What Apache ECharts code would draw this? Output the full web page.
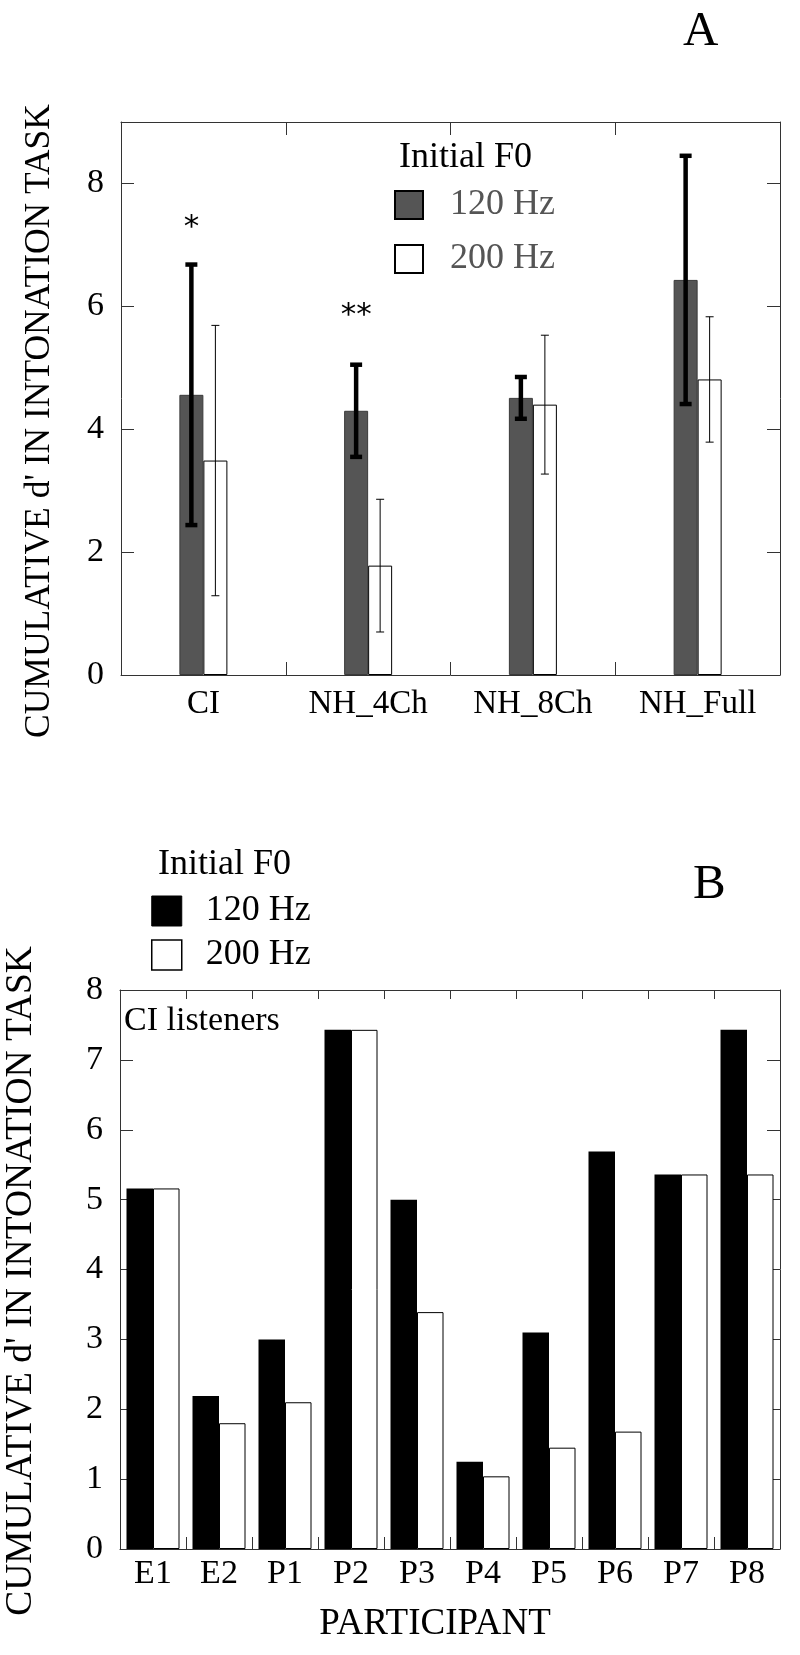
<!DOCTYPE html>
<html><head><meta charset="utf-8">
<script src="https://cdn.jsdelivr.net/npm/echarts@6/dist/echarts.min.js"></script>
<style>html,body{margin:0;padding:0;background:#fff}#c{width:800px;height:1655px}</style>
</head><body><div id="c"></div>
<script>
// ---------- Panel A data ----------
const groupsA = ['CI', 'NH_4Ch', 'NH_8Ch', 'NH_Full'];
const meanA120 = [4.56, 4.30, 4.51, 6.43];
const sdA120 = [2.12, 0.75, 0.34, 2.02];
const meanA200 = [3.49, 1.78, 4.40, 4.81];
const sdA200 = [2.20, 1.08, 1.13, 1.02];
const sigLabelsA = ['*', '**', '', ''];
const sigLevelA = [7.41, 5.97, null, null];
const yTicksA = [0, 2, 4, 6, 8];

// ---------- Panel B data ----------
const participants = ['E1', 'E2', 'P1', 'P2', 'P3', 'P4', 'P5', 'P6', 'P7', 'P8'];
const dB120 = [5.16, 2.19, 3.00, 7.43, 5.00, 1.25, 3.10, 5.69, 5.36, 7.43];
const dB200 = [5.16, 1.80, 2.10, 7.43, 3.39, 1.04, 1.45, 1.68, 5.36, 5.36];
const yTicksB = [0, 1, 2, 3, 4, 5, 6, 7, 8];

const seriesNames = ['120 Hz', '200 Hz'];
const legendTitle = 'Initial F0';
const yAxisTitle = "CUMULATIVE d' IN INTONATION TASK";
const xAxisTitleB = 'PARTICIPANT';

const SERIF = '"Liberation Serif", "Times New Roman", "DejaVu Serif", serif';
const LINE = '#333';

function errData(means, sds) {
  return means.map((m, i) => [i, m - sds[i], m + sds[i]]);
}
function errRender(offset, lw, capW) {
  return function (params, api) {
    const i = api.value(0);
    const pLo = api.coord([i, api.value(1)]);
    const pHi = api.coord([i, api.value(2)]);
    const x = pLo[0] + offset;
    const st = { stroke: '#000', lineWidth: lw };
    return { type: 'group', children: [
      { type: 'line', shape: { x1: x, y1: pLo[1], x2: x, y2: pHi[1] }, style: st },
      { type: 'line', shape: { x1: x - capW / 2, y1: pHi[1], x2: x + capW / 2, y2: pHi[1] }, style: st },
      { type: 'line', shape: { x1: x - capW / 2, y1: pLo[1], x2: x + capW / 2, y2: pLo[1] }, style: st }
    ]};
  };
}
const sigData = sigLevelA.map((v, i) => v == null ? null : [i, v]).filter(d => d);

function catAxis(grid, data, pos, showLabel, tickLen, margin, fs) {
  return {
    type: 'category', gridIndex: grid, data: data, position: pos, boundaryGap: true,
    axisLine: { show: true, onZero: false, lineStyle: { color: LINE, width: 1 } },
    axisTick: { show: true, inside: true, length: tickLen, lineStyle: { color: LINE, width: 1 } },
    axisLabel: { show: showLabel, fontFamily: SERIF, fontSize: fs, color: '#000', margin: margin },
    splitLine: { show: false }
  };
}
function valAxis(grid, max, ticks, pos, showLabel, fs) {
  return {
    type: 'value', gridIndex: grid, min: 0, max: max, position: pos,
    axisLine: { show: true, lineStyle: { color: LINE, width: 1 } },
    axisTick: { show: true, inside: true, length: 13, customValues: ticks, lineStyle: { color: LINE, width: 1 } },
    axisLabel: { show: showLabel, customValues: ticks, fontFamily: SERIF, fontSize: fs, color: '#000', margin: 17 },
    splitLine: { show: false }
  };
}

const option = {
  animation: false,
  backgroundColor: '#fff',
  grid: [
    { left: 121, top: 122, width: 659, height: 553 },
    { left: 120, top: 990, width: 660, height: 559 }
  ],
  xAxis: [
    catAxis(0, groupsA, 'bottom', true, 13, 13, 33),
    catAxis(0, groupsA, 'top', false, 13, 8, 33),
    Object.assign(catAxis(1, participants, 'bottom', true, 12, 8, 34), {
      name: xAxisTitleB, nameLocation: 'middle', nameGap: 57,
      nameTextStyle: { fontFamily: SERIF, fontSize: 37, color: '#000', padding: [0, 30, 0, 0] }
    }),
    catAxis(1, participants, 'top', false, 9, 8, 34)
  ],
  yAxis: [
    valAxis(0, 9, yTicksA, 'left', true, 34),
    valAxis(0, 9, yTicksA, 'right', false, 34),
    valAxis(1, 8, yTicksB, 'left', true, 34),
    valAxis(1, 8, yTicksB, 'right', false, 34)
  ],
  title: [
    { text: 'A', left: 683, top: 8, padding: 0, textStyle: { fontFamily: SERIF, fontSize: 49, fontWeight: 'normal', color: '#000', lineHeight: 49 } },
    { text: 'B', left: 693, top: 861, padding: 0, textStyle: { fontFamily: SERIF, fontSize: 49, fontWeight: 'normal', color: '#000', lineHeight: 49 } },
    { text: legendTitle, left: 399, top: 140, padding: 0, textStyle: { fontFamily: SERIF, fontSize: 36, fontWeight: 'normal', color: '#000', lineHeight: 36 } },
    { text: legendTitle, left: 158, top: 847, padding: 0, textStyle: { fontFamily: SERIF, fontSize: 36, fontWeight: 'normal', color: '#000', lineHeight: 36 } },
    { text: 'CI listeners', left: 124, top: 1004, padding: 0, textStyle: { fontFamily: SERIF, fontSize: 34, fontWeight: 'normal', color: '#000', lineHeight: 34 } }
  ],
  legend: [
    {
      left: 394, top: 187, orient: 'vertical', padding: 0, itemWidth: 28, itemHeight: 28, itemGap: 18,
      icon: 'rect', selectedMode: false,
      textStyle: { fontFamily: SERIF, fontSize: 36, color: '#555', lineHeight: 28, padding: [0, 0, 0, 22] },
      data: [
        { name: seriesNames[0], itemStyle: { color: '#555', borderColor: '#000', borderWidth: 2 } },
        { name: seriesNames[1], itemStyle: { color: '#fff', borderColor: '#000', borderWidth: 2 } }
      ]
    },
    {
      left: 151, top: 893, orient: 'vertical', padding: 0, itemWidth: 30, itemHeight: 30, itemGap: 8,
      icon: 'rect', selectedMode: false,
      textStyle: { fontFamily: SERIF, fontSize: 36, color: '#000', lineHeight: 30, padding: [0, 0, 0, 19] },
      data: [
        { name: seriesNames[0], itemStyle: { color: '#000', borderColor: '#000', borderWidth: 1 } },
        { name: seriesNames[1], itemStyle: { color: '#fff', borderColor: '#000', borderWidth: 1.5 } }
      ]
    }
  ],
  graphic: [
    { type: 'text', x: 40, y: 421, rotation: Math.PI / 2,
      style: { text: yAxisTitle, font: '35.5px "Liberation Serif"', fill: '#000', align: 'center', verticalAlign: 'middle' } },
    { type: 'text', x: 21, y: 1281, rotation: Math.PI / 2,
      style: { text: yAxisTitle, font: '37.5px "Liberation Serif"', fill: '#000', align: 'center', verticalAlign: 'middle' } }
  ],
  series: [
    { type: 'bar', name: seriesNames[0], xAxisIndex: 0, yAxisIndex: 0, data: meanA120, barWidth: 24, barGap: '0%',
      itemStyle: { color: '#555', borderColor: '#3a3a3a', borderWidth: 1 } },
    { type: 'bar', name: seriesNames[1], xAxisIndex: 0, yAxisIndex: 0, data: meanA200, barWidth: 24, barGap: '0%',
      itemStyle: { color: '#fff', borderColor: '#000', borderWidth: 1 } },
    { type: 'custom', name: 'err120', xAxisIndex: 0, yAxisIndex: 0, z: 5, data: errData(meanA120, sdA120),
      encode: { x: 0, y: [1, 2] }, renderItem: errRender(-12, 4.5, 12) },
    { type: 'custom', name: 'err200', xAxisIndex: 0, yAxisIndex: 0, z: 5, data: errData(meanA200, sdA200),
      encode: { x: 0, y: [1, 2] }, renderItem: errRender(12, 1, 8) },
    { type: 'custom', name: 'sig', xAxisIndex: 0, yAxisIndex: 0, z: 6, data: sigData,
      encode: { x: 0, y: 1 },
      renderItem: function (params, api) {
        const i = api.value(0);
        const p = api.coord([i, api.value(1)]);
        return { type: 'text', x: p[0] - 12, y: p[1] + 8,
          style: { text: sigLabelsA[i], font: '31px "DejaVu Sans"', fill: '#000', align: 'center', verticalAlign: 'middle' } };
      } },
    { type: 'bar', name: seriesNames[0], xAxisIndex: 2, yAxisIndex: 2, data: dB120, barWidth: 26.5, barGap: '0%',
      itemStyle: { color: '#000', borderColor: '#000', borderWidth: 0 } },
    { type: 'bar', name: seriesNames[1], xAxisIndex: 2, yAxisIndex: 2, data: dB200, barWidth: 26.5, barGap: '0%',
      itemStyle: { color: '#fff', borderColor: '#000', borderWidth: 1 } }
  ]
};

const chart = echarts.init(document.getElementById('c'), null, { renderer: 'canvas' });
chart.setOption(option);
</script>
</body></html>
